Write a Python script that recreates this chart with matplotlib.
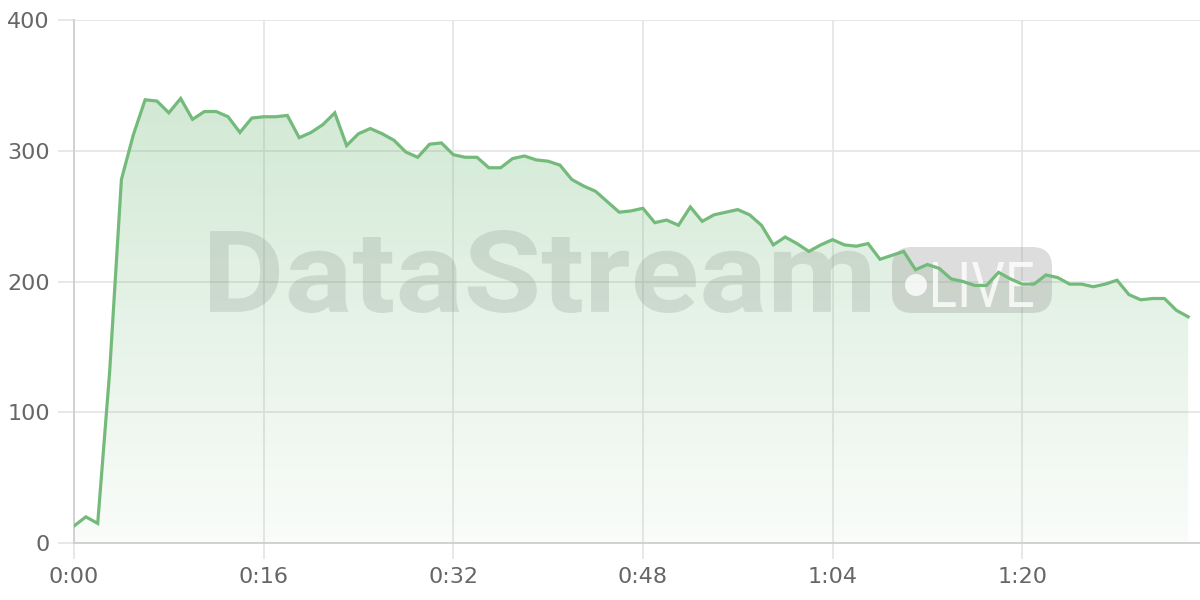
import matplotlib
matplotlib.use("Agg")
import matplotlib.pyplot as plt
import numpy as np
from matplotlib.patches import FancyBboxPatch, Polygon, Circle, PathPatch
from matplotlib.textpath import TextPath
from matplotlib.font_manager import FontProperties
from matplotlib.transforms import IdentityTransform, Affine2D

# секунды и значения
seconds = list(range(95))
values = [13, 20, 15, 130, 278, 312, 339, 338, 329, 340,
          324, 330, 330, 326, 314, 325, 326, 326, 327, 310,
          314, 320, 329, 304, 313, 317, 313, 308, 299, 295,
          305, 306, 297, 295, 295, 287, 287, 294, 296, 293,
          292, 289, 278, 273, 269, 261, 253, 254, 256, 245,
          247, 243, 257, 246, 251, 253, 255, 251, 243, 228,
          234, 229, 223, 228, 232, 228, 227, 229, 217, 220,
          223, 209, 213, 210, 202, 200, 197, 197, 207, 202,
          198, 198, 205, 203, 198, 198, 196, 198, 201, 190,
          186, 187, 187, 178, 173]
xticks = [0, 16, 32, 48, 64, 80]
xtick_labels = ["0:00", "0:16", "0:32", "0:48", "1:04", "1:20"]
yticks = [0, 100, 200, 300, 400]

line_col = "#74ba7b"
grid_col = "#e4e4e4"
txt_col = "#666666"

fig = plt.figure(figsize=(12, 6), dpi=100)
ax = fig.add_axes([74/1200, 57/600, 1126/1200, 523/600])

# градиентная заливка
grad = np.linspace(0.04, 0.32, 256).reshape(-1, 1)
rgba = np.zeros((256, 1, 4))
rgba[..., 0] = 0.45
rgba[..., 1] = 0.73
rgba[..., 2] = 0.48
rgba[..., 3] = grad
im = ax.imshow(rgba, aspect="auto", origin="lower",
               extent=[0, max(seconds), 0, max(values)], zorder=1)
verts = [(seconds[0], 0)] + list(zip(seconds, values)) + [(seconds[-1], 0)]
clip = Polygon(verts, closed=True, facecolor="none", edgecolor="none",
               transform=ax.transData)
ax.add_patch(clip)
im.set_clip_path(clip)
ax.set_xlim(0, 95)
ax.set_ylim(0, 400)

ax.plot(seconds, values, color=line_col, lw=2.3, zorder=5,
        solid_joinstyle="miter")


def text_box(s, x0, y0, x1, y1, weight, **kw):
    # текст вписанный в прямоугольник (пиксели)
    tp = TextPath((0, 0), s, size=100,
                  prop=FontProperties(family="Roboto", weight=weight))
    bb = tp.get_extents()
    tr = Affine2D().translate(-bb.x0, -bb.y0).scale(
        (x1 - x0) / bb.width, (y1 - y0) / bb.height).translate(x0, y0)
    p = PathPatch(tr.transform_path(tp), transform=IdentityTransform(),
                  edgecolor="none", **kw)
    ax.add_artist(p)


# водяной знак
text_box("DataStream", 210, 287, 870, 370, "bold",
         facecolor="#7a8a7d", alpha=0.22, zorder=3)
badge = FancyBboxPatch((892, 287), 160, 66,
                       boxstyle="round,pad=0,rounding_size=20",
                       transform=IdentityTransform(), facecolor="#9a9a9a",
                       alpha=0.33, edgecolor="none", zorder=3)
ax.add_artist(badge)
ax.add_artist(Circle((916, 315), 11, transform=IdentityTransform(),
                     facecolor="white", alpha=0.8, edgecolor="none",
                     zorder=4))
text_box("LIVE", 933, 293, 1033, 338, "normal",
         facecolor="white", alpha=0.8, zorder=4)

ax.set_xticks(xticks)
ax.set_xticklabels(xtick_labels)
ax.set_yticks(yticks)
ax.grid(True, color=grid_col, lw=1.2, zorder=0)
ax.set_axisbelow(True)
for s in ["top", "right"]:
    ax.spines[s].set_visible(False)
for s in ["left", "bottom"]:
    ax.spines[s].set_color("#cfcfcf")
    ax.spines[s].set_linewidth(1.3)
ax.tick_params(length=11.5, width=1.2, color=grid_col, labelcolor=txt_col,
               labelsize=16)
ax.tick_params(axis="y", pad=5.8)
ax.tick_params(axis="x", pad=6)

fig.savefig("out.png", dpi=100, facecolor="white")
